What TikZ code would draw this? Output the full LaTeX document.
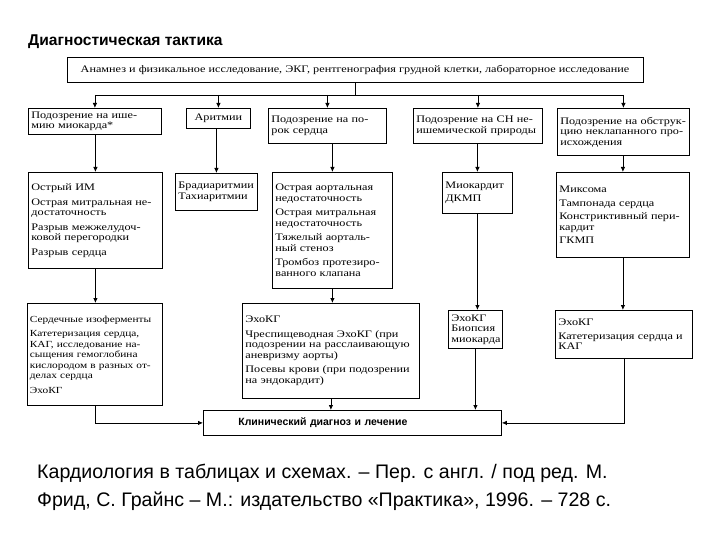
\documentclass[tikz,border=0pt]{standalone}
\usepackage{fontspec}
\newfontfamily\boxfont{Liberation Serif}[FakeStretch=1.22]
\newfontfamily\headfont{Liberation Sans}
\usetikzlibrary{arrows.meta, positioning}

\tikzset{
  box/.style={draw=black, line width=0.8pt, anchor=north west, align=left,
    inner xsep=3pt, inner ysep=3pt, font=\boxfont\fontsize{10}{10.5}\selectfont},
  arr/.style={line width=0.8pt, -{Latex[length=5pt,width=4.5pt]}},
  lin/.style={line width=0.8pt},
  capt/.style={anchor=base west, inner sep=0pt, font=\headfont\fontsize{19.6}{28}\selectfont}
}

\begin{document}
\begin{tikzpicture}[x=1pt, y=-1pt]
  \useasboundingbox (0,0) rectangle (720,540);
  \fill[white] (0,0) rectangle (720,540);

  % heading
  \node[anchor=base west, inner sep=0pt, font=\headfont\bfseries\fontsize{15.6}{18}\selectfont] (title) at (28,46) {Диагностическая тактика};

  % first examination
  \node[box, anchor=center, align=center, line width=1pt, minimum width=576pt, minimum height=25pt] (top) at (355,70.5)
    {Анамнез и физикальное исследование, ЭКГ, рентгенография грудной клетки, лабораторное исследование};

  % suspicions
  \node[box, text width=127pt, minimum height=26pt] (s1) at (28,108) {Подозрение на ише-\\мию миокарда*};
  \node[box, align=center, minimum width=64pt, minimum height=20pt] (s2) at (186,108) {Аритмии};
  \node[box, text width=112pt, minimum height=35pt] (s3) at (268,108) {Подозрение на по-\\рок сердца};
  \node[box, text width=123pt, minimum height=35pt] (s4) at (413,108) {Подозрение на СН не-\\ишемической природы};
  \node[box, text width=126pt, minimum height=47pt] (s5) at (557,108) {Подозрение на обструк-\\цию неклапанного про-\\исхождения};

  % conditions
  \node[box, text width=128pt, minimum height=96pt] (d1) at (28,172)
    {Острый ИМ\\[4pt]Острая митральная не-\\достаточность\\[4pt]Разрыв межжелудоч-\\ковой перегородки\\[4pt]Разрыв сердца};
  \node[box, text width=76pt, minimum height=37pt] (d2) at (175,173) {Брадиаритмии\\Тахиаритмии};
  \node[box, text width=114pt, minimum height=116pt] (d3) at (272,172)
    {Острая аортальная\\недостаточность\\[4pt]Острая митральная\\недостаточность\\[4pt]Тяжелый аорталь-\\ный стеноз\\[4pt]Тромбоз протезиро-\\ванного клапана};
  \node[box, text width=64pt, minimum height=41pt] (d4) at (442,172) {Миокардит\\[2pt]ДКМП};
  \node[box, text width=127pt, minimum height=85pt] (d5) at (556,172)
    {Миксома\\[3pt]Тампонада сердца\\[3pt]Констриктивный пери-\\кардит\\[3pt]ГКМП};

  % examinations
  \node[box, text width=130pt, minimum height=102pt, inner xsep=2.5pt, font=\boxfont\fontsize{9.3}{10.5}\selectfont] (e1) at (27,303)
    {Сердечные изоферменты\\[4pt]Катетеризация сердца,\\КАГ, исследование на-\\сыщения гемоглобина\\кислородом в разных от-\\делах сердца\\[4pt]ЭхоКГ};
  \node[box, text width=171pt, minimum height=95pt] (e3) at (242,303)
    {ЭхоКГ\\[4pt]Чреспищеводная ЭхоКГ (при\\подозрении на расслаивающую\\аневризму аорты)\\[4pt]Посевы крови (при подозрении\\на эндокардит)};
  \node[box, text width=48pt, minimum height=38pt] (e4) at (448,310) {ЭхоКГ\\Биопсия\\миокарда};
  \node[box, text width=131pt, minimum height=48pt] (e5) at (555,310) {ЭхоКГ\\[3pt]Катетеризация сердца и\\КАГ};

  % result
  \node[box, text width=292pt, minimum height=25pt, font=\headfont\bfseries\fontsize{10.5}{12}\selectfont] (dx) at (203,410)
    {\hspace*{32pt}Клинический диагноз и лечение};

  % connectors
  \coordinate (bus) at (355,95);
  \draw[lin] (top.south) -- (bus);
  \draw[lin] (bus -| s1.north) -- (bus -| s5.north);
  \foreach \n in {s1,s2,s3,s4,s5}
    \draw[arr] (bus -| \n.north) -- (\n.north);
  \foreach \a/\b in {s1/d1,s2/d2,s3/d3,s4/d4,s5/d5}
    \draw[arr] (\b.north |- \a.south) -- (\b.north);
  \foreach \a/\b in {d1/e1,d3/e3,d4/e4,d5/e5}
    \draw[arr] (\a.south) -- (\a.south |- \b.north);
  \draw[arr] (e1.south) |- (dx.west);
  \draw[arr] (e3.south) -- (e3.south |- dx.north);
  \draw[arr] (e4.south) -- (e4.south |- dx.north);
  \draw[arr] (e5.south) |- (dx.east);

  % source
  \node[capt] (cap1) at (37,478) {Кардиология в таблицах и схемах. – Пер. с англ. / под ред. М.};
  \node[capt] (cap2) at (37,506) {Фрид, С. Грайнс – М.: издательство «Практика», 1996. – 728 с.};
\end{tikzpicture}
\end{document}
